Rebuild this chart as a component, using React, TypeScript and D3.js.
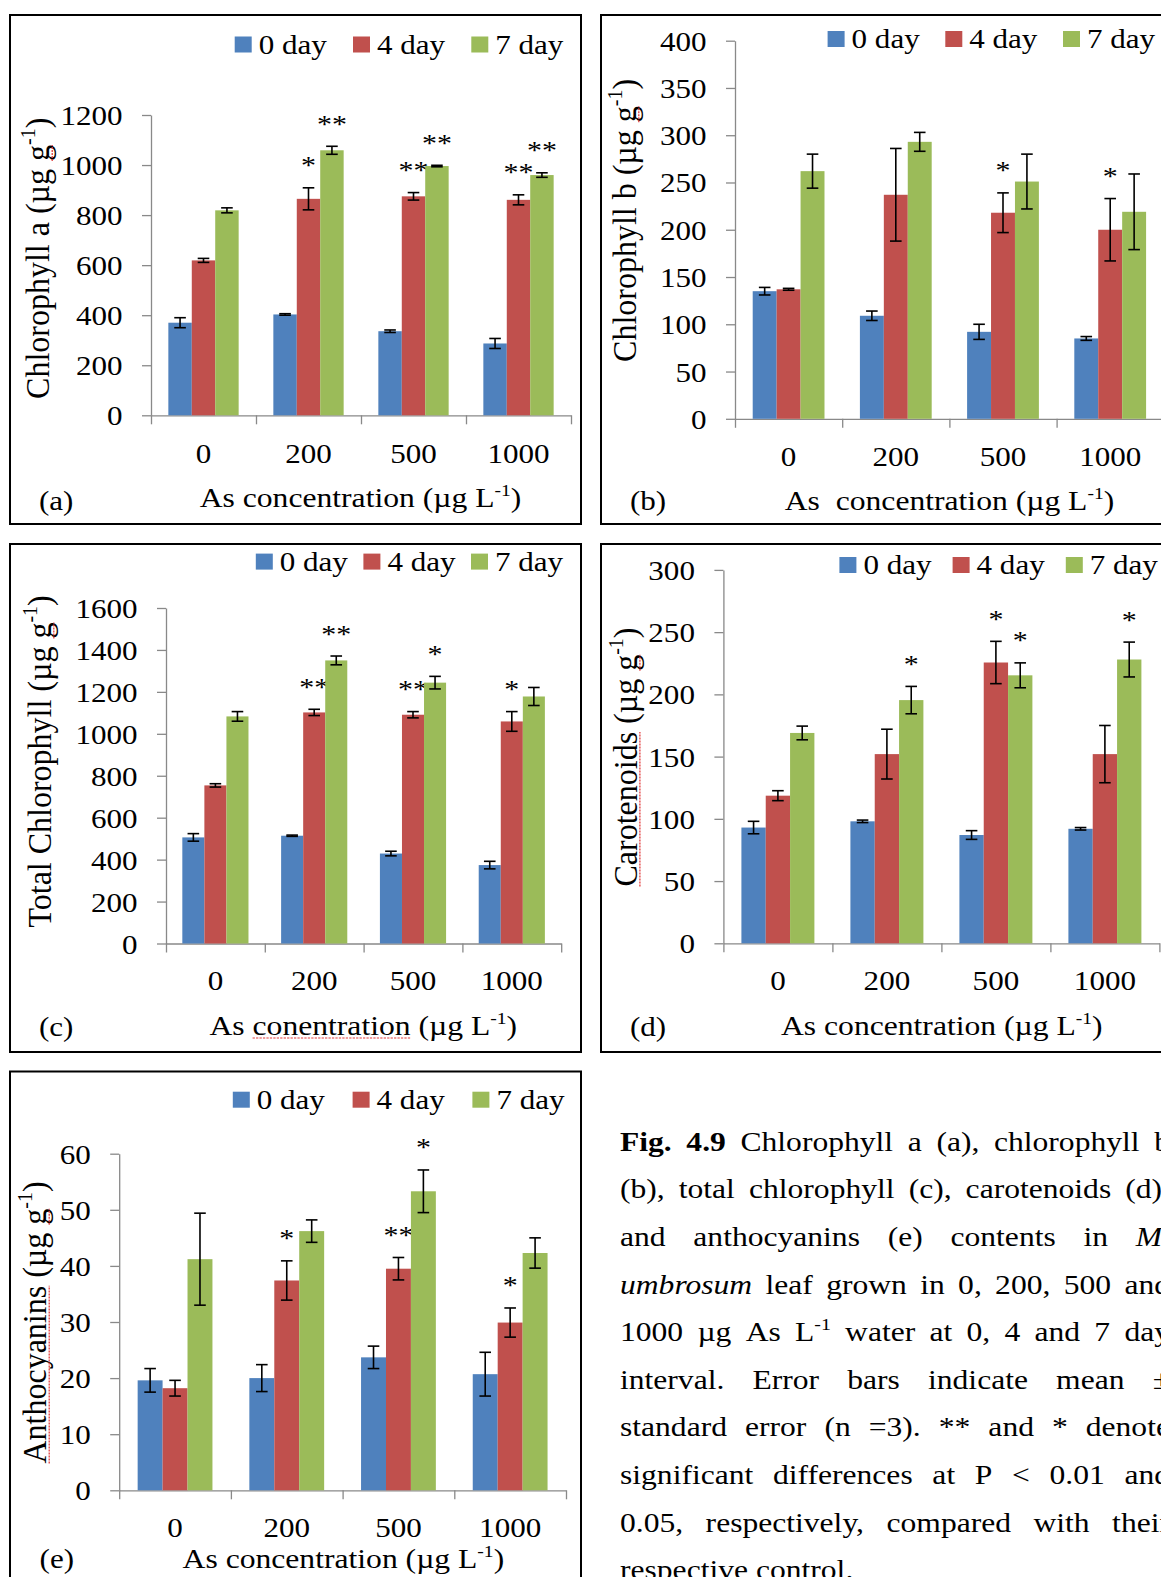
import React, { useEffect, useRef } from "react";
import * as d3 from "d3";

const W = 1161;
const H = 1577;
const FONT = "'Liberation Serif', 'Times New Roman', serif";

const categories = ["0", "200", "500", "1000"];
const seriesNames = ["0 day", "4 day", "7 day"];
const seriesColors = ["#4F81BD", "#C0504D", "#9BBB59"];
const noSig = ["", "", "", ""];

// (a) chlorophyll a
const chlaDay0 = [370, 403, 336, 287];
const chlaDay4 = [619, 865, 875, 861];
const chlaDay7 = [819, 1059, 996, 960];
const chlaErr0 = [20, 3, 5, 20];
const chlaErr4 = [8, 44, 15, 20];
const chlaErr7 = [10, 16, 3, 9];
const chlaSig4 = ["", "*", "**", "**"];
const chlaSig7 = ["", "**", "**", "**"];

// (b) chlorophyll b
const chlbDay0 = [135, 109, 92, 85];
const chlbDay4 = [137, 237, 218, 200];
const chlbDay7 = [262, 293, 251, 219];
const chlbErr0 = [4, 5, 8, 2];
const chlbErr4 = [1, 49, 21, 33];
const chlbErr7 = [18, 10, 29, 40];
const chlbSig4 = ["", "", "*", "*"];

// (c) total chlorophyll
const totDay0 = [506, 514, 429, 374];
const totDay4 = [754, 1102, 1091, 1059];
const totDay7 = [1083, 1350, 1244, 1178];
const totErr0 = [18, 3, 11, 18];
const totErr4 = [8, 15, 15, 47];
const totErr7 = [23, 21, 30, 43];
const totSig4 = ["", "**", "**", "*"];
const totSig7 = ["", "**", "*", ""];

// (d) carotenoids
const carDay0 = [93, 98, 87, 92];
const carDay4 = [118.6, 152, 225.6, 152];
const carDay7 = [169, 195.4, 215.3, 228];
const carErr0 = [5, 1, 3.5, 1];
const carErr4 = [4, 20, 17, 23];
const carErr7 = [5.5, 11, 10, 14];
const carSig4 = ["", "", "*", ""];
const carSig7 = ["", "*", "*", "*"];

// (e) anthocyanins
const antDay0 = [19.6, 20.0, 23.7, 20.7];
const antDay4 = [18.2, 37.4, 39.5, 29.9];
const antDay7 = [41.2, 46.2, 53.3, 42.3];
const antErr0 = [2.1, 2.4, 2, 3.9];
const antErr4 = [1.4, 3.5, 2, 2.6];
const antErr7 = [8.2, 2, 3.8, 2.7];
const antSig4 = ["", "*", "**", "*"];
const antSig7 = ["", "", "*", ""];

const captionLines = [
  "b:Fig. b:4.9 Chlorophyll a (a), chlorophyll b",
  "(b), total chlorophyll (c), carotenoids (d),",
  "and anthocyanins (e) contents in i:M.",
  "i:umbrosum leaf grown in 0, 200, 500 and",
  "1000 µg As L^-1 water at 0, 4 and 7 day",
  "interval. Error bars indicate mean ±",
  "standard error (n =3). ** and * denote",
  "significant differences at P < 0.01 and",
  "0.05, respectively, compared with their",
  "respective control.",
];

// text in the picture is stretched sideways
const FS = 27;
const SX = 1.15;
const YT_FS = 32;
const YT_SY = 1.07;
const XT_FS = 27.5;
const STAR_FS = 26;
const CAP_FS = 27;
const CAP_SX = 1.17;
const AXIS = "#898989";

const panels = [
  {
    values: [chlaDay0, chlaDay4, chlaDay7], errors: [chlaErr0, chlaErr4, chlaErr7], sigs: [noSig, chlaSig4, chlaSig7],
    yMax: 1200, yStep: 200, yTitle: "Chlorophyll a (µg g", xTitle: "As concentration (µg L", tag: "(a)", squiggles: [] as string[],
    frame: [10, 15, 581, 524], x0: 151, x1: 571, yBottom: 415.3, yTop: 115,
    legendX: 234.7, legendStep: 118.3, legendTop: 36.5,
    yTitleX: 49, yTitleY: 258.3, catY: 462.5, xTitleX: 360.5, xTitleY: 507, tagX: 39, tagY: 510,
  },
  {
    values: [chlbDay0, chlbDay4, chlbDay7], errors: [chlbErr0, chlbErr4, chlbErr7], sigs: [noSig, chlbSig4, noSig],
    yMax: 400, yStep: 50, yTitle: "Chlorophyll b (µg g", xTitle: "As  concentration (µg L", tag: "(b)", squiggles: [],
    frame: [601, 15, 1190, 524], x0: 735, x1: 735 + 4 * 107.2, yBottom: 418.8, yTop: 40.7,
    legendX: 827.6, legendStep: 117.7, legendTop: 31,
    yTitleX: 635.6, yTitleY: 220.4, catY: 466, xTitleX: 949.5, xTitleY: 510, tagX: 630, tagY: 510,
  },
  {
    values: [totDay0, totDay4, totDay7], errors: [totErr0, totErr4, totErr7], sigs: [noSig, totSig4, totSig7],
    yMax: 1600, yStep: 200, yTitle: "Total Chlorophyll (µg g", xTitle: "As conentration (µg L", tag: "(c)", squiggles: ["conentration"],
    frame: [10, 544, 581, 1052], x0: 166, x1: 166 + 4 * 98.8, yBottom: 943.5, yTop: 608,
    legendX: 255.8, legendStep: 107.6, legendTop: 553.6,
    yTitleX: 50.6, yTitleY: 761.4, catY: 990, xTitleX: 363.3, xTitleY: 1035, tagX: 39, tagY: 1036,
  },
  {
    values: [carDay0, carDay4, carDay7], errors: [carErr0, carErr4, carErr7], sigs: [noSig, carSig4, carSig7],
    yMax: 300, yStep: 50, yTitle: "Carotenoids (µg g", xTitle: "As concentration (µg L", tag: "(d)", squiggles: ["Carotenoids"],
    frame: [601, 544, 1190, 1052], x0: 723.4, x1: 723.4 + 4 * 109, yBottom: 943.3, yTop: 569.9,
    legendX: 839.4, legendStep: 113.2, legendTop: 557,
    yTitleX: 636.7, yTitleY: 757, catY: 990, xTitleX: 941.8, xTitleY: 1035, tagX: 630, tagY: 1036,
  },
  {
    values: [antDay0, antDay4, antDay7], errors: [antErr0, antErr4, antErr7], sigs: [noSig, antSig4, antSig7],
    yMax: 60, yStep: 10, yTitle: "Anthocyanins (µg g", xTitle: "As concentration (µg L", tag: "(e)", squiggles: ["Anthocyanins"],
    frame: [10, 1071.5, 581, 1620], x0: 119.2, x1: 119.2 + 4 * 111.7, yBottom: 1490.3, yTop: 1153.7,
    legendX: 232.8, legendStep: 119.8, legendTop: 1091.7,
    yTitleX: 46, yTitleY: 1322.5, catY: 1537, xTitleX: 343.4, xTitleY: 1568, tagX: 39.6, tagY: 1568,
  },
];

function squiggle(g: any, node: any, start: number, idx: number, len: number, y: number) {
  const x1 = start + node.getSubStringLength(0, idx);
  const w = node.getSubStringLength(idx, len);
  g.append("line")
    .attr("x1", x1).attr("x2", x1 + w)
    .attr("y1", y).attr("y2", y)
    .attr("stroke", "#e23c3c").attr("stroke-width", 1.2)
    .attr("stroke-dasharray", "2 1");
}

function drawPanel(svg: any, p: any) {
  const g = svg.append("g");
  g.append("rect")
    .attr("x", p.frame[0]).attr("y", p.frame[1])
    .attr("width", p.frame[2] - p.frame[0]).attr("height", p.frame[3] - p.frame[1])
    .attr("fill", "#fff").attr("stroke", "#000").attr("stroke-width", 2);

  const y = d3.scaleLinear().domain([0, p.yMax]).range([p.yBottom, p.yTop]);
  const x = d3.scaleBand().domain(categories).range([p.x0, p.x1]);
  const xs = d3.scaleBand().domain(seriesNames).range([0, x.bandwidth()]).paddingOuter(0.74);

  // y axis
  const ya = g.append("g").attr("transform", `translate(${p.x0},0)`)
    .call(d3.axisLeft(y).tickValues(d3.range(0, p.yMax + 1e-6, p.yStep)).tickSize(9).tickSizeOuter(0).tickFormat(d3.format("d")));
  ya.attr("font-size", FS).attr("font-family", FONT);
  ya.selectAll("line, path").attr("stroke", AXIS).attr("stroke-width", 1.3);
  ya.selectAll("text").attr("x", null).attr("dy", null).attr("fill", "#000")
    .attr("transform", `translate(-28.5,9.5) scale(${SX},1)`);

  // category boundaries
  const xb = d3.scaleLinear().domain([0, categories.length]).range([p.x0, p.x1]);
  const xbAxis = g.append("g").attr("transform", `translate(0,${p.yBottom})`)
    .call(d3.axisBottom(xb).tickValues(d3.range(0, categories.length + 1)).tickSize(9).tickSizeOuter(0).tickFormat(() => ""));
  xbAxis.selectAll("line, path").attr("stroke", AXIS).attr("stroke-width", 1.3);

  // category labels
  const xa = g.append("g").attr("transform", `translate(0,${p.yBottom})`).call(d3.axisBottom(x).tickSize(0));
  xa.select(".domain").remove();
  xa.attr("font-size", FS).attr("font-family", FONT);
  xa.selectAll("text").attr("y", null).attr("dy", null).attr("fill", "#000")
    .attr("transform", `translate(0,${p.catY - p.yBottom}) scale(${SX},1)`);

  // bars, error bars, significance marks
  seriesNames.forEach((s, si) => {
    const vals: number[] = p.values[si];
    const errs: number[] = p.errors[si];
    const cx = (i: number) => (x(categories[i]) as number) + (xs(s) as number) + xs.bandwidth() / 2;
    g.append("g").attr("fill", seriesColors[si])
      .selectAll("rect").data(vals).join("rect")
      .attr("x", (_d: number, i: number) => (x(categories[i]) as number) + (xs(s) as number))
      .attr("width", xs.bandwidth())
      .attr("y", (d: number) => y(d))
      .attr("height", (d: number) => y(0) - y(d));

    const eg = g.append("g").attr("stroke", "#000").attr("stroke-width", 1.6);
    vals.forEach((v, i) => {
      const top = y(v + errs[i]);
      const bot = y(v - errs[i]);
      eg.append("line").attr("x1", cx(i)).attr("x2", cx(i)).attr("y1", top).attr("y2", bot);
      eg.append("line").attr("x1", cx(i) - 5.8).attr("x2", cx(i) + 5.8).attr("y1", top).attr("y2", top);
      eg.append("line").attr("x1", cx(i) - 5.8).attr("x2", cx(i) + 5.8).attr("y1", bot).attr("y2", bot);
      const mark = p.sigs[si][i];
      if (mark) {
        g.append("text")
          .attr("transform", `translate(${cx(i)},${top - 13.5}) scale(${SX},1)`)
          .attr("text-anchor", "middle").attr("font-size", STAR_FS).attr("font-family", FONT)
          .text(mark);
      }
    });
  });

  // legend
  seriesNames.forEach((s, si) => {
    const lx = p.legendX + si * p.legendStep;
    g.append("rect").attr("x", lx).attr("y", p.legendTop).attr("width", 17).attr("height", 16).attr("fill", seriesColors[si]);
    g.append("text")
      .attr("transform", `translate(${lx + 24},${p.legendTop + 17}) scale(${SX},1)`)
      .attr("font-size", FS).attr("font-family", FONT).text(s);
  });

  // y title
  const yg = g.append("g").attr("transform", `translate(${p.yTitleX},${p.yTitleY}) rotate(-90) scale(1,${YT_SY})`);
  const yt = yg.append("text").attr("text-anchor", "middle").attr("font-size", YT_FS).attr("font-family", FONT);
  yt.append("tspan").text(p.yTitle);
  yt.append("tspan").attr("font-size", 20).attr("dy", -13).text("-1");
  yt.append("tspan").attr("dy", 13).text(")");
  const ynode = yt.node();
  const ylen = ynode.getComputedTextLength();
  const gIdx = p.yTitle.lastIndexOf("g");
  squiggle(yg, ynode, -ylen / 2, gIdx, 1, 3);
  p.squiggles.forEach((w: string) => {
    const idx = p.yTitle.indexOf(w);
    if (idx >= 0) squiggle(yg, ynode, -ylen / 2, idx, w.length, 3);
  });

  // x title
  const xg = g.append("g").attr("transform", `translate(${p.xTitleX},${p.xTitleY}) scale(${SX},1)`);
  const xt = xg.append("text").attr("text-anchor", "middle").attr("font-size", XT_FS).attr("font-family", FONT)
    .style("white-space", "pre");
  xt.append("tspan").text(p.xTitle);
  xt.append("tspan").attr("font-size", 17).attr("dy", -11).text("-1");
  xt.append("tspan").attr("dy", 11).text(")");
  const xnode = xt.node();
  const xlen = xnode.getComputedTextLength();
  p.squiggles.forEach((w: string) => {
    const idx = p.xTitle.indexOf(w);
    if (idx >= 0) squiggle(xg, xnode, -xlen / 2, idx, w.length, 3);
  });

  // panel tag
  g.append("text")
    .attr("transform", `translate(${p.tagX},${p.tagY}) scale(${SX},1)`)
    .attr("font-size", FS).attr("font-family", FONT).text(p.tag);
}

function appendWord(g: any, w: string) {
  let s = w;
  let weight = "normal";
  let style = "normal";
  if (s.startsWith("b:")) { weight = "bold"; s = s.slice(2); }
  else if (s.startsWith("i:")) { style = "italic"; s = s.slice(2); }
  const t = g.append("text").attr("font-weight", weight).attr("font-style", style);
  if (s.includes("^")) {
    const [base, sup] = s.split("^");
    t.append("tspan").text(base);
    t.append("tspan").attr("font-size", 17).attr("dy", -11).text(sup);
  } else {
    t.text(s);
  }
  return t;
}

function drawCaption(svg: any) {
  const left = 620;
  const right = 1170;
  const y0 = 1150.7;
  const lh = 47.6;
  const cg = svg.append("g").attr("font-size", CAP_FS).attr("font-family", FONT);
  captionLines.forEach((line, li) => {
    const words = line.split(" ");
    const texts = words.map((w) => appendWord(cg, w));
    const widths = texts.map((t: any) => t.node().getComputedTextLength() * CAP_SX);
    const total = d3.sum(widths);
    const justify = li < captionLines.length - 1;
    const gap = justify ? (right - left - total) / (words.length - 1) : 0.25 * CAP_FS * CAP_SX;
    let cx = left;
    texts.forEach((t: any, i: number) => {
      t.attr("transform", `translate(${cx},${y0 + li * lh}) scale(${CAP_SX},1)`);
      cx += widths[i] + gap;
    });
  });
}

export default function App() {
  const svgRef = useRef<SVGSVGElement>(null);

  useEffect(() => {
    const svg = d3.select(svgRef.current);
    svg.selectAll("*").remove();
    panels.forEach((p) => drawPanel(svg, p));
    drawCaption(svg);
  }, []);

  return (
    <svg
      ref={svgRef}
      width={W}
      height={H}
      style={{ position: "absolute", left: 0, top: 0, background: "#fff", display: "block" }}
    />
  );
}
